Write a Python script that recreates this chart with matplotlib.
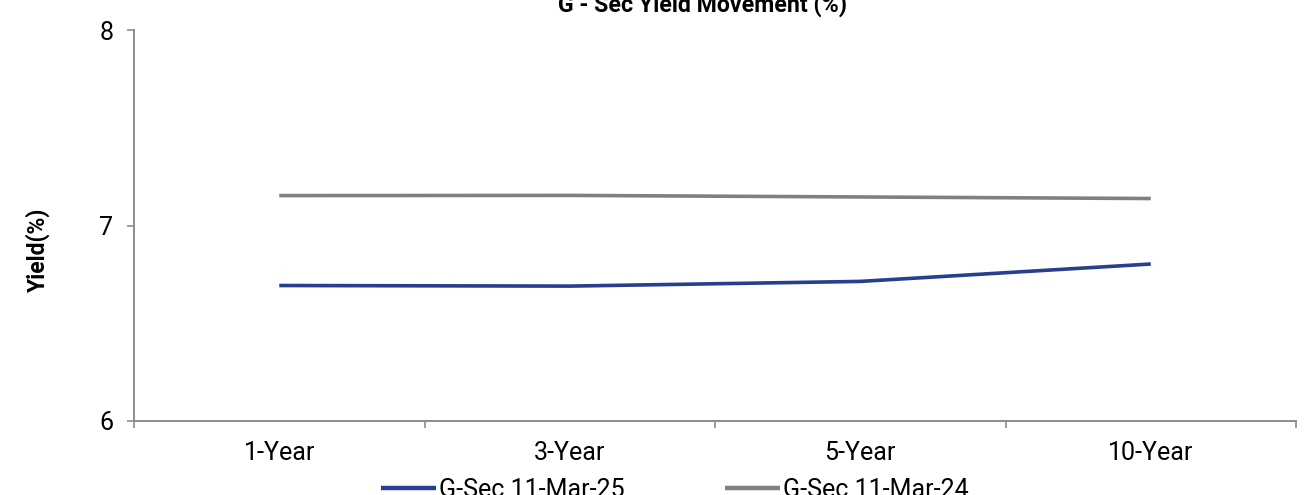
import matplotlib
matplotlib.use("Agg")
import matplotlib.pyplot as plt
from matplotlib.lines import Line2D

# Tenors and yields (%)
tenors = ["1-Year", "3-Year", "5-Year", "10-Year"]
yield_mar25 = [6.693, 6.690, 6.714, 6.803]
yield_mar24 = [7.153, 7.154, 7.146, 7.138]
series_labels = ["G-Sec 11-Mar-25", "G-Sec 11-Mar-24"]
title_text = "G - Sec Yield Movement (%)"
y_ticks = [6, 7, 8]

blue = "#263f8e"
grey = "#808080"
axis_grey = "#8c8c8c"

plt.rcParams["font.family"] = ["Roboto", "DejaVu Sans"]

fig = plt.figure(figsize=(13.06, 4.95), dpi=100)
ax = fig.add_axes([134 / 1306, 1 - 421 / 495, (1296 - 134) / 1306, (421 - 30) / 495])

x = list(range(len(tenors)))
ax.plot(x, yield_mar25, color=blue, lw=2.6, solid_capstyle="butt", solid_joinstyle="round")
ax.plot(x, yield_mar24, color=grey, lw=2.6, solid_capstyle="butt", solid_joinstyle="round")

ax.set_xlim(-0.5, len(tenors) - 0.5)
ax.set_ylim(6, 8)

# Category boundaries carry the tick marks; labels sit at the centres
ax.set_xticks([i - 0.5 for i in range(len(tenors) + 1)])
ax.set_xticklabels([])
ax.set_xticks(x, minor=True)
ax.set_xticklabels(tenors, minor=True, fontsize=18)
ax.tick_params(axis="x", which="major", length=5, width=1.2, color=axis_grey, direction="out")
ax.tick_params(axis="x", which="minor", length=0, pad=14.5)

ax.set_yticks(y_ticks)
ax.set_yticklabels([str(v) for v in y_ticks], fontsize=18)
ax.tick_params(axis="y", length=5, width=1.2, color=axis_grey, direction="out", pad=10)

for side in ("top", "right"):
    ax.spines[side].set_visible(False)
for side in ("left", "bottom"):
    ax.spines[side].set_color(axis_grey)
    ax.spines[side].set_linewidth(1.4)

fig.text(38 / 1306, 1 - 250 / 495, "Yield(%)", rotation=90, ha="center", va="center",
         fontsize=16.5, fontweight="bold")

fig.text(702 / 1306, 1 - 12 / 495, title_text, ha="center", va="baseline",
         fontsize=16.7, fontweight="bold")

handles = [Line2D([], [], color=blue, lw=3.2, solid_capstyle="butt"),
           Line2D([], [], color=grey, lw=3.2, solid_capstyle="butt")]
fig.legend(handles, series_labels, loc="center", bbox_to_anchor=(675 / 1306, 1 - 490 / 495),
           ncol=2, frameon=False, prop={"size": 18},
           handlelength=2.2, handletextpad=0.12, columnspacing=4.0, borderpad=0)

fig.savefig("out.png", dpi=100)
